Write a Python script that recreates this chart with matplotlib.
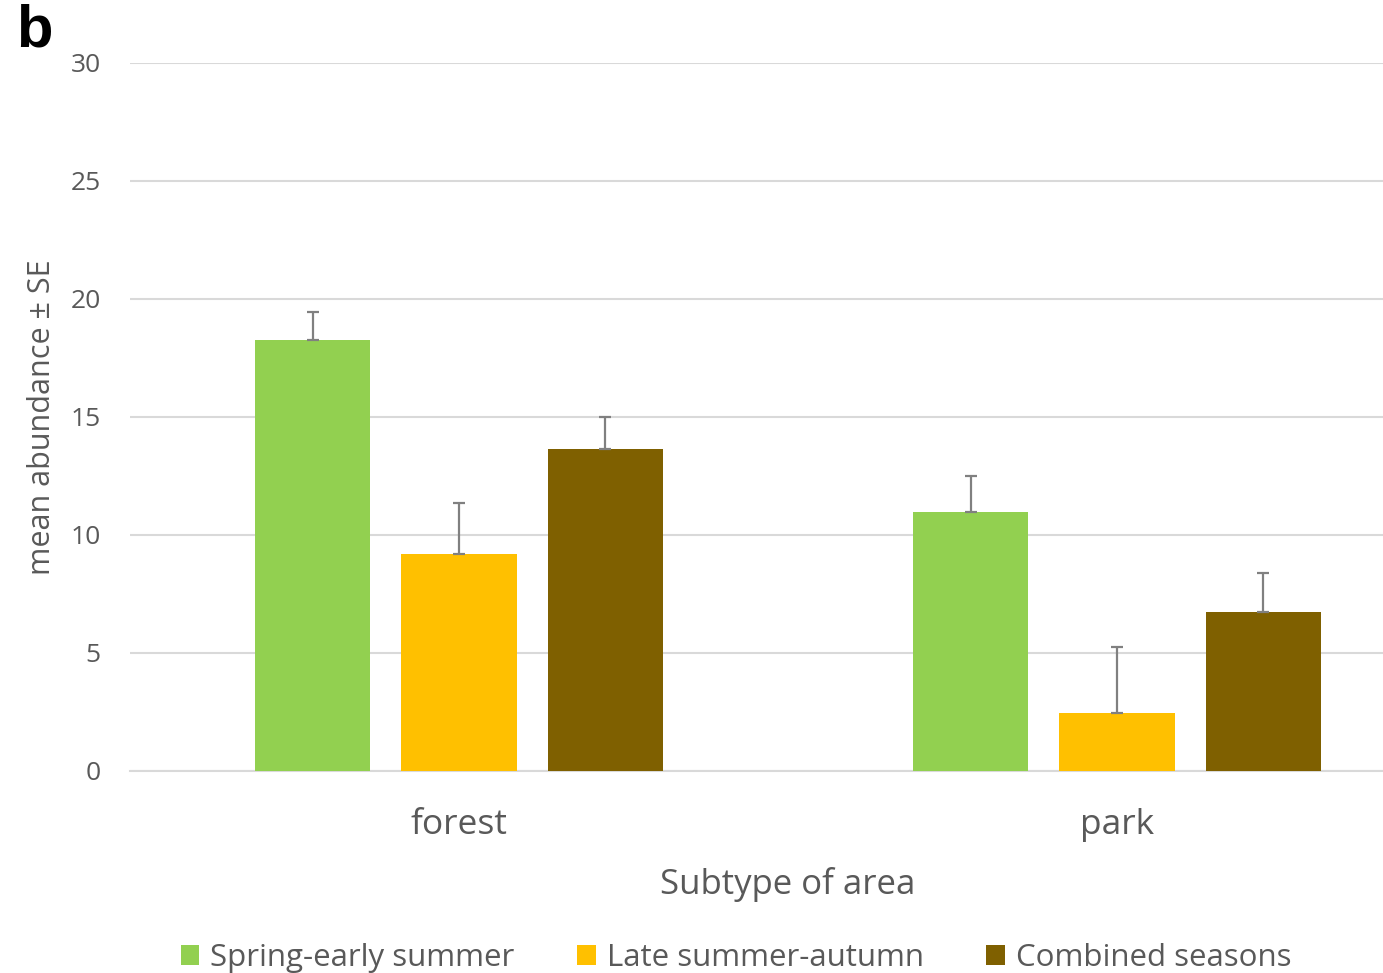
import numpy as np
import matplotlib.pyplot as plt

# values
areas = ["forest", "park"]
seasons = ["Spring-early summer", "Late summer-autumn", "Combined seasons"]
means = {
    "Spring-early summer": [18.25, 10.97],
    "Late summer-autumn": [9.2, 2.45],
    "Combined seasons": [13.65, 6.75],
}
se = {
    "Spring-early summer": [1.2, 1.55],
    "Late summer-autumn": [2.15, 2.8],
    "Combined seasons": [1.35, 1.65],
}
colors = ["#92D050", "#FFC000", "#7F6000"]
yticks = [0, 5, 10, 15, 20, 25, 30]

plt.rcParams['font.family'] = ['Open Sans', 'DejaVu Sans']
text_grey = "#595959"

fig = plt.figure(figsize=(13.83, 9.73), dpi=100)
# the original chart is cropped on the right, so the axes run past the figure edge
ax = fig.add_axes([130 / 1383, 202 / 973, 1316 / 1383, 708 / 973])

x = np.arange(len(areas))
width = 0.175
step = 0.222
for i, s in enumerate(seasons):
    pos = x + (i - 1) * step
    ax.bar(pos, means[s], width, color=colors[i], label=s, zorder=3)
    ax.errorbar(pos, means[s], yerr=[np.zeros(len(areas)), se[s]], fmt='none',
                ecolor="#808080", elinewidth=1.6, capsize=4, capthick=1.6, zorder=4)

ax.set_xlim(-0.5, 1.5)
ax.set_ylim(0, 30)
ax.set_yticks(yticks)
ax.set_xticks(x)
ax.set_xticklabels(areas, fontsize=25.5, color=text_grey)
ax.tick_params(axis='y', labelsize=19, labelcolor=text_grey, length=0, pad=21)
ax.tick_params(axis='x', length=0, pad=27)
ax.grid(axis='y', color="#D9D9D9", linewidth=1.5, zorder=0)
for side in ["top", "right", "left"]:
    ax.spines[side].set_visible(False)
ax.spines["bottom"].set_color("#D9D9D9")
ax.spines["bottom"].set_linewidth(1.5)

ax.set_xlabel("Subtype of area", fontsize=25, color=text_grey, labelpad=18)
ax.set_ylabel("mean abundance ± SE", fontsize=22, color=text_grey, labelpad=10)

fig.legend(loc='center', bbox_to_anchor=(736 / 1383, 15 / 973), ncol=3, frameon=False,
           fontsize=22.5, labelcolor=text_grey, handlelength=0.6, handleheight=0.6,
           handletextpad=0.35, columnspacing=2.0)

fig.text(16 / 1383, 1 - 31 / 973, "b", fontsize=43, fontweight='bold', va='center',
         family=['Liberation Sans', 'DejaVu Sans'])

fig.savefig("out.png", dpi=100)
